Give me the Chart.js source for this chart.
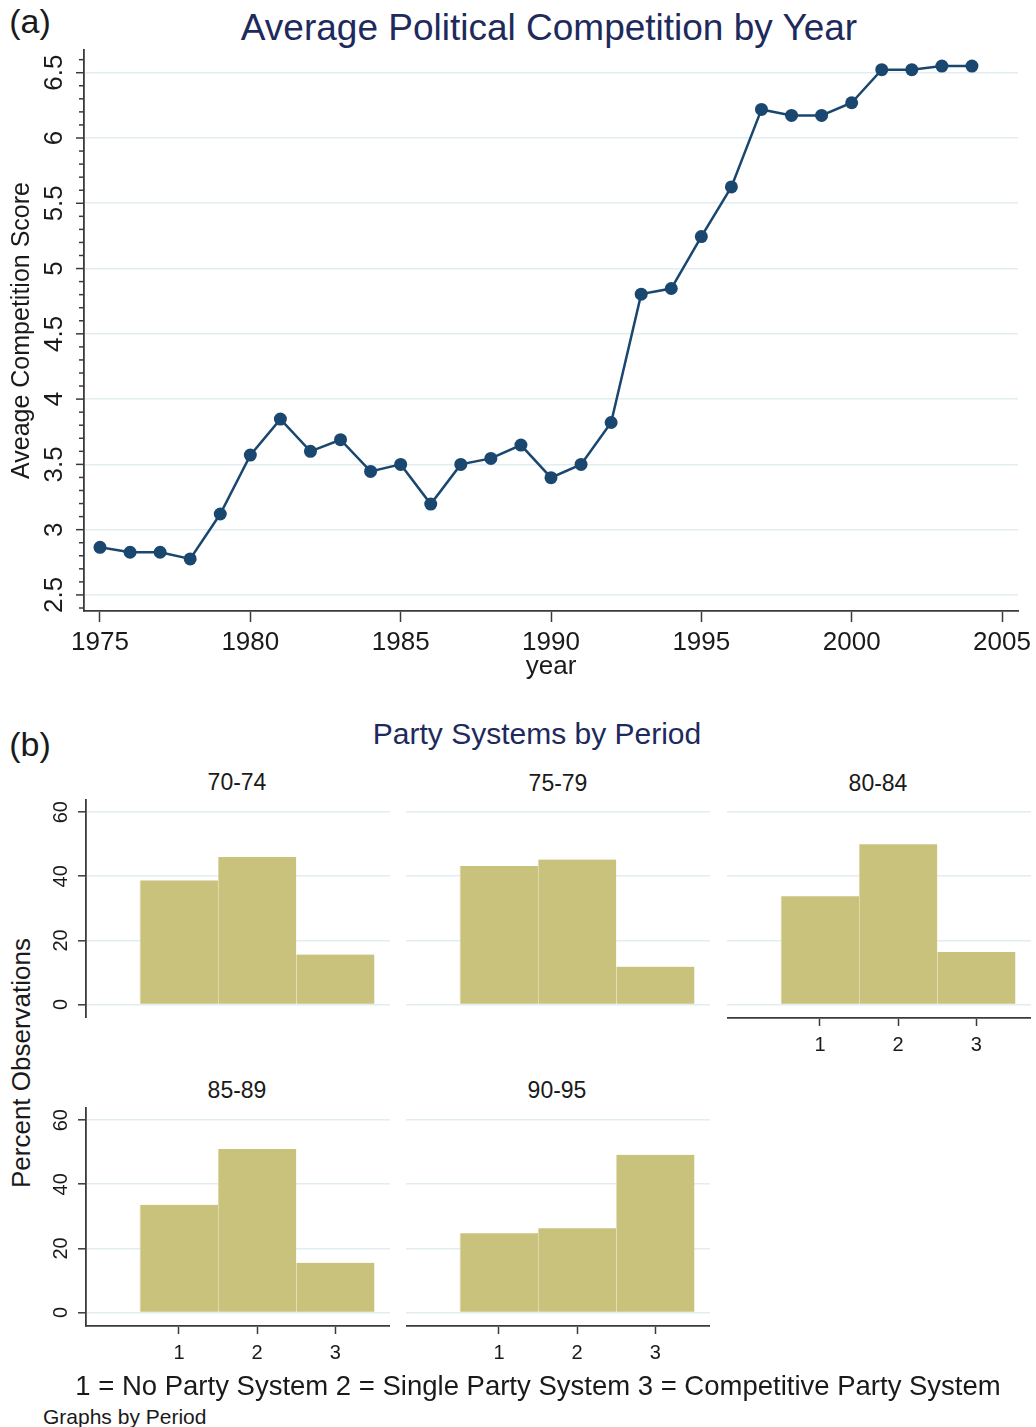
<!DOCTYPE html>
<html><head><meta charset="utf-8">
<script src="https://cdn.jsdelivr.net/npm/chart.js@4.4.1/dist/chart.umd.min.js"></script>
<style>
html,body{margin:0;padding:0;background:#fff;}
body{width:1036px;height:1427px;position:relative;overflow:hidden;font-family:"Liberation Sans",Arial,sans-serif;color:#1a1a1a;}
canvas{position:absolute;}
.t{position:absolute;white-space:nowrap;line-height:1;transform:translate(-50%,-50%);}
.l{position:absolute;white-space:nowrap;line-height:1;transform:translate(0,-50%);}
.r{position:absolute;white-space:nowrap;line-height:1;transform:translate(-50%,-50%) rotate(-90deg);}
.navy{color:#1e2a5c;}
</style></head><body>
<div class="t" style="left:30px;top:21px;font-size:34px;">(a)</div>
<div class="t navy" style="left:549px;top:27px;font-size:37px;">Average Political Competition by Year</div>
<canvas id="top" width="1036" height="690" style="left:0;top:0;width:1036px;height:690px;"></canvas>

<div class="t" style="left:30px;top:744px;font-size:34px;">(b)</div>
<div class="t navy" style="left:537px;top:734px;font-size:30px;">Party Systems by Period</div>
<div class="t" id="pt0" style="left:237px;top:782px;font-size:23px;"></div>
<div class="t" id="pt1" style="left:558px;top:783px;font-size:23px;"></div>
<div class="t" id="pt2" style="left:878px;top:783px;font-size:23px;"></div>
<div class="t" id="pt3" style="left:237px;top:1090px;font-size:23px;"></div>
<div class="t" id="pt4" style="left:557px;top:1090px;font-size:23px;"></div>
<div class="r" style="left:21px;top:1063px;font-size:26px;">Percent Observations</div>

<canvas id="p0" width="390" height="219" style="left:0;top:799px;width:390px;height:219px;"></canvas>
<canvas id="p1" width="304" height="219" style="left:406px;top:799px;width:304px;height:219px;"></canvas>
<canvas id="p2" width="304" height="269" style="left:727px;top:799px;width:304px;height:269px;"></canvas>
<canvas id="p3" width="390" height="269" style="left:0;top:1107px;width:390px;height:269px;"></canvas>
<canvas id="p4" width="304" height="269" style="left:406px;top:1107px;width:304px;height:269px;"></canvas>

<div class="t" style="left:538px;top:1386px;font-size:27.5px;">1 = No Party System 2 = Single Party System 3 = Competitive Party System</div>
<div class="l" style="left:43px;top:1416px;font-size:21px;">Graphs by Period</div>

<script>
// ---------- data ----------
const years = [1975,1976,1977,1978,1979,1980,1981,1982,1983,1984,1985,1986,1987,1988,1989,
               1990,1991,1992,1993,1994,1995,1996,1997,1998,1999,2000,2001,2002,2003,2004];
const avgScore = [2.865,2.827,2.827,2.776,3.12,3.571,3.847,3.60,3.689,3.446,3.50,3.196,3.50,3.546,3.648,
                  3.398,3.50,3.821,4.804,4.847,5.245,5.625,6.219,6.173,6.173,6.27,6.523,6.523,6.551,6.551];
const xTickYears = [1975,1980,1985,1990,1995,2000,2005];
const yMajorTicks = [2.5,3,3.5,4,4.5,5,5.5,6,6.5];
const yMajorLabels = ['2.5','3','3.5','4','4.5','5','5.5','6','6.5'];

const periods = ['70-74','75-79','80-84','85-89','90-95'];
const partyCats = [1,2,3];
const partyCatLabels = ['1','2','3'];
const pctTicks = [0,20,40,60];
const pctTickLabels = ['0','20','40','60'];
const pct7074 = [38.7,46.0,15.6];
const pct7579 = [43.2,45.2,11.8];
const pct8084 = [33.8,50.0,16.4];
const pct8589 = [33.6,51.0,15.5];
const pct9095 = [24.7,26.3,49.2];

// ---------- styles ----------
const FONT = '"Liberation Sans", Arial, sans-serif';
const NAVY = '#1a476f';
const GRID = '#e2edf0';
const AXIS = '#3a3a3a';
const TXT = '#1a1a1a';
const BAR = '#c9c27c';
const BAR_EDGE = '#e6e2bd';
Chart.defaults.font.family = FONT;
Chart.defaults.color = TXT;

periods.forEach((p,i)=>{ document.getElementById('pt'+i).textContent = p; });

const rotYAxis = {
  id: 'rotYAxis',
  afterDraw(chart, args, o) {
    if (!o || !o.values) return;
    const s = chart.scales.y, ctx = chart.ctx, left = chart.chartArea.left;
    ctx.save();
    if (o.tickMarks) {
      ctx.strokeStyle = AXIS; ctx.lineWidth = 1.5;
      s.ticks.forEach(t => {
        const y = s.getPixelForValue(t.value);
        const major = o.values.some(v => Math.abs(v - t.value) < 1e-6);
        const len = major ? o.majorLen : o.minorLen;
        ctx.beginPath(); ctx.moveTo(left - len, y); ctx.lineTo(left, y); ctx.stroke();
      });
    }
    ctx.fillStyle = TXT; ctx.font = o.font; ctx.textAlign = 'center'; ctx.textBaseline = 'alphabetic';
    o.values.forEach((v, i) => {
      const y = s.getPixelForValue(v);
      ctx.save(); ctx.translate(o.x, y); ctx.rotate(-Math.PI/2); ctx.fillText(o.labels[i], 0, 0); ctx.restore();
    });
    ctx.restore();
  }
};
Chart.register(rotYAxis);

const isMajor = v => yMajorTicks.some(m => Math.abs(m - v) < 1e-6);

// ---------- top line chart ----------
new Chart(document.getElementById('top'), {
  type: 'line',
  data: { datasets: [{
    data: years.map((y,i)=>({x:y, y:avgScore[i]})),
    borderColor: NAVY, backgroundColor: NAVY, borderWidth: 2.5,
    pointRadius: 6.5, pointBackgroundColor: NAVY, pointBorderWidth: 0,
    tension: 0, clip: false
  }]},
  options: {
    responsive: false, animation: false, events: [],
    layout: { padding: { left: 0, right: 18, top: 50, bottom: 0 } },
    plugins: {
      legend: { display: false }, tooltip: { enabled: false },
      rotYAxis: { values: yMajorTicks, labels: yMajorLabels, x: 61.5, font: '26px ' + FONT,
                  tickMarks: true, majorLen: 8, minorLen: 5 }
    },
    scales: {
      x: {
        type: 'linear', min: 1974.468, max: 2005.532,
        afterBuildTicks: s => { s.ticks = xTickYears.map(v => ({value: v})); },
        afterFit: s => { s.height = 79; s.paddingLeft = 0; s.paddingRight = 0; },
        ticks: { callback: v => String(v), font: { size: 26 }, color: TXT, padding: 5, maxRotation: 0, autoSkip: false },
        grid: { display: true, drawOnChartArea: false, drawTicks: true, tickLength: 11, tickColor: AXIS, tickWidth: 1.5 },
        border: { display: true, color: AXIS, width: 1.8 },
        title: { display: true, text: 'year', font: { size: 26 }, color: TXT, padding: { top: 0, bottom: 8 } }
      },
      y: {
        type: 'linear', min: 2.377, max: 6.674,
        ticks: { display: false, stepSize: 0.1, precision: 1, includeBounds: false },
        afterFit: s => { s.width = 84; s.paddingTop = 0; s.paddingBottom = 0; },
        grid: { drawTicks: false, lineWidth: 1.6, color: c => (c.tick && isMajor(c.tick.value)) ? GRID : 'rgba(0,0,0,0)' },
        border: { display: true, color: AXIS, width: 1.8 },
        title: { display: true, text: 'Aveage Competition Score', font: { size: 25 }, color: TXT, padding: { top: 7, bottom: 0 } }
      }
    }
  }
});

// ---------- histogram panels ----------
function panel(id, vals, showY, showX) {
  new Chart(document.getElementById(id), {
    type: 'bar',
    data: { datasets: [{
      data: partyCats.map((c,i)=>({x:c, y:vals[i]})),
      backgroundColor: BAR, borderColor: BAR_EDGE,
      borderWidth: { left: 1, top: 0, right: 0, bottom: 0 }, borderSkipped: false,
      barPercentage: 1, categoryPercentage: 1
    }]},
    options: {
      responsive: false, animation: false, events: [],
      layout: { padding: 0 },
      plugins: {
        legend: { display: false }, tooltip: { enabled: false },
        rotYAxis: showY ? { values: pctTicks, labels: pctTickLabels, x: 67, font: '20px ' + FONT, tickMarks: false } : {}
      },
      scales: {
        x: {
          type: 'linear', min: -0.19, max: 3.7, offset: false, display: showX,
          afterBuildTicks: s => { s.ticks = partyCats.map(v => ({value: v})); },
          afterFit: s => { s.height = showX ? 50 : 0; s.paddingLeft = 0; s.paddingRight = 0; },
          ticks: { callback: (v) => partyCatLabels[partyCats.indexOf(v)], font: { size: 20 }, color: TXT, padding: 7, maxRotation: 0, autoSkip: false },
          grid: { display: true, offset: false, drawOnChartArea: false, drawTicks: true, tickLength: 8, tickColor: AXIS, tickWidth: 1.5 },
          border: { display: true, color: AXIS, width: 1.8 }
        },
        y: {
          type: 'linear', min: -4.2, max: 64.1,
          afterBuildTicks: s => { s.ticks = pctTicks.map(v => ({value: v})); },
          afterFit: s => { s.width = showY ? 86 : 0; s.paddingTop = 0; s.paddingBottom = 0; },
          ticks: { display: false },
          grid: { color: GRID, lineWidth: 1.6, drawTicks: showY, tickLength: 8, tickColor: AXIS, tickWidth: 1.5 },
          border: { display: showY, color: AXIS, width: 1.8 }
        }
      }
    }
  });
}
panel('p0', pct7074, true, false);
panel('p1', pct7579, false, false);
panel('p2', pct8084, false, true);
panel('p3', pct8589, true, true);
panel('p4', pct9095, false, true);
</script>
</body></html>
